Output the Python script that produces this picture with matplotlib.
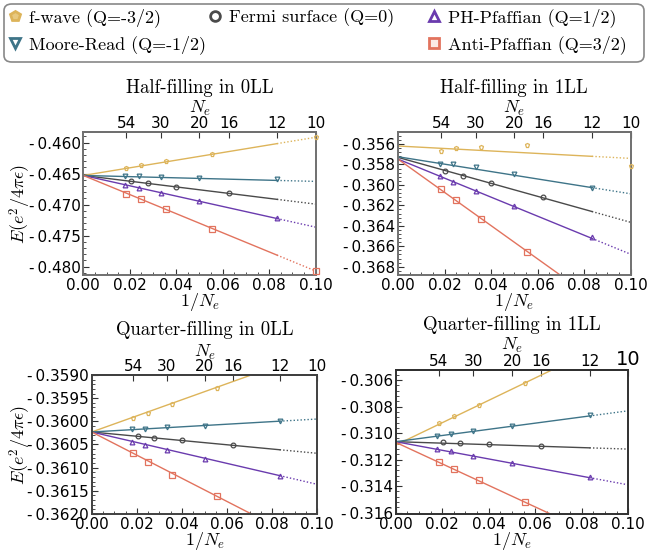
import matplotlib
matplotlib.use("Agg")
import matplotlib.pyplot as plt
import numpy as np
from matplotlib.ticker import AutoMinorLocator, FuncFormatter
from matplotlib.patches import FancyBboxPatch
from matplotlib.lines import Line2D

plt.rcParams['mathtext.fontset'] = 'cm'
plt.rcParams['font.family'] = 'DejaVu Sans'

# system sizes N_e used for each state
N_fwave = [54, 40, 28, 18, 10]
N_fermi = [49, 36, 25, 16]
N_ph = [56, 42, 30, 20, 12]
N_mr = [56, 42, 30, 20, 12]
N_apf = [54, 40, 28, 18, 10]

# energies per electron, half filling in 0LL
half0_fwave = [-0.46403, -0.46366, -0.46302, -0.46180, -0.45915]
half0_fermi = [-0.46615, -0.46658, -0.46711, -0.46817]
half0_ph = [-0.46690, -0.46732, -0.46817, -0.46944, -0.47215]
half0_mr = [-0.46541, -0.46541, -0.46557, -0.46573, -0.46594]
half0_apf = [-0.46822, -0.46912, -0.47077, -0.47395, -0.48069]

# half filling in 1LL
half1_fwave = [-0.35669, -0.35643, -0.35626, -0.35610, -0.35817]
half1_fermi = [-0.35863, -0.35912, -0.35985, -0.36119]
half1_ph = [-0.35912, -0.35971, -0.36064, -0.36211, -0.36514]
half1_mr = [-0.35791, -0.35797, -0.35830, -0.35889, -0.36027]
half1_apf = [-0.36044, -0.36146, -0.36333, -0.36652]

# quarter filling in 0LL
quar0_fwave = [-0.35992, -0.35981, -0.35963, -0.35929]
quar0_fermi = [-0.36032, -0.36036, -0.36041, -0.36051]
quar0_ph = [-0.36044, -0.36051, -0.36062, -0.36082, -0.36118]
quar0_mr = [-0.36017, -0.36016, -0.36013, -0.36009, -0.35999]
quar0_apf = [-0.36069, -0.36087, -0.36115, -0.36162]

# quarter filling in 1LL
quar1_fwave = [-0.30920, -0.30872, -0.30787, -0.30620]
quar1_fermi = [-0.31069, -0.31074, -0.31082, -0.31095]
quar1_ph = [-0.31120, -0.31138, -0.31172, -0.31223, -0.31333]
quar1_mr = [-0.31018, -0.31005, -0.30985, -0.30946, -0.30864]
quar1_apf = [-0.31215, -0.31267, -0.31354, -0.31521]

# linear extrapolations (intercept, slope) in order fwave, fermi, ph, mr, apf
half0_fit = [(-0.4653, 0.0615), (-0.4653, -0.0462), (-0.4653, -0.0833), (-0.4653, -0.0096), (-0.4653, -0.154)]
half1_fit = [(-0.3562, -0.0121), (-0.35731, -0.0635), (-0.35748, -0.093), (-0.35725, -0.0362), (-0.35748, -0.1626)]
quar0_fit = [(-0.36023, 0.0174), (-0.36023, -0.0046), (-0.36023, -0.0113), (-0.36023, 0.0028), (-0.36023, -0.025)]
quar1_fit = [(-0.3109, 0.0845), (-0.31064, -0.0056), (-0.31064, -0.0326), (-0.31064, 0.0233), (-0.31069, -0.0813)]

titles = ["Half-filling in 0LL", "Half-filling in 1LL",
          "Quarter-filling in 0LL", "Quarter-filling in 1LL"]
top_N = [54, 30, 20, 16, 12, 10]

colors = ['#DDB45A', '#4A4A4A', '#6A3BAE', '#3E7488', '#E2735E']
markers = ['p', 'o', '^', 'v', 's']
msizes = [3.6, 3.4, 3.4, 3.4, 5]
labels = ["f-wave (Q=-3/2)", "Fermi surface (Q=0)", "PH-Pfaffian (Q=1/2)",
          "Moore-Read (Q=-1/2)", "Anti-Pfaffian (Q=3/2)"]
Ns = [N_fwave, N_fermi, N_ph, N_mr, N_apf]

panels = [
    ([half0_fwave, half0_fermi, half0_ph, half0_mr, half0_apf], half0_fit),
    ([half1_fwave, half1_fermi, half1_ph, half1_mr, half1_apf], half1_fit),
    ([quar0_fwave, quar0_fermi, quar0_ph, quar0_mr, quar0_apf], quar0_fit),
    ([quar1_fwave, quar1_fermi, quar1_ph, quar1_mr, quar1_apf], quar1_fit),
]

W, H = 649, 551
fig = plt.figure(figsize=(W / 100, H / 100), dpi=100)

def px_axes(x0, y0, x1, y1):
    return fig.add_axes([x0 / W, 1 - y1 / H, (x1 - x0) / W, (y1 - y0) / H])

boxes = [(83.3, 132, 315.7, 275), (398, 132, 630.7, 275),
         (91.7, 375, 317.3, 514), (395.7, 370, 628.3, 514)]
axes = [px_axes(*b) for b in boxes]
ylims = [(-0.48134, -0.4583), (-0.36881, -0.35483), (-0.3620, -0.3590), (-0.3161, -0.30523)]
yticks = [np.arange(-0.480, -0.4599, 0.005), np.arange(-0.368, -0.3559, 0.002),
          np.arange(-0.3620, -0.35899, 0.0005), np.arange(-0.316, -0.3059, 0.002)]
ydec = [3, 3, 4, 3]
title_y = [88, 88, 330, 325]
ne_pad = [2, 2, 1, 0]
spine_cols = ['#707070', '#707070', '#404040', '#303030']

x_cut = 1 / 12

for k, ax in enumerate(axes):
    data, fits = panels[k]
    for i in range(5):
        E = data[i]
        x = 1 / np.array(Ns[i][:len(E)], dtype=float)
        b, m = fits[i]
        xs = np.linspace(0, x_cut, 50)
        xd = np.linspace(x_cut, 0.1, 20)
        ax.plot(xs, b + m * xs, color=colors[i], lw=1.0)
        ax.plot(xd, b + m * xd, color=colors[i], lw=1.0, ls=(0, (1, 1.5)))
        ax.plot(x, E, ls='none', marker=markers[i], ms=msizes[i], mfc='none',
                mec=colors[i], mew=0.9, clip_on=False, zorder=4)

    ax.set_xlim(0, 0.1)
    ax.set_ylim(*ylims[k])
    ax.set_xticks(np.arange(0, 0.101, 0.02))
    ax.xaxis.set_major_formatter(FuncFormatter(lambda v, p: f"{v:.2f}"))
    ax.set_yticks(yticks[k])
    d = ydec[k]
    ax.yaxis.set_major_formatter(FuncFormatter(lambda v, p, d=d: f"-\u2009{abs(v):.{d}f}"))
    ax.xaxis.set_minor_locator(AutoMinorLocator(4))
    ax.yaxis.set_minor_locator(AutoMinorLocator(5))
    ax.tick_params(which='both', direction='in', colors='#333333', labelcolor='black',
                   labelsize=11)
    ax.tick_params(which='major', length=4, width=0.8)
    ax.tick_params(which='minor', length=2, width=0.6)
    ax.tick_params(axis='x', pad=2)
    ax.tick_params(axis='y', pad=2)
    for s in ax.spines.values():
        s.set_color(spine_cols[k])
        s.set_linewidth(1.4)

    x0, y0, x1, y1 = boxes[k]
    ax.set_xlabel(r"$1/N_e$", fontsize=13, labelpad=-1)
    if k in (0, 2):
        ax.set_ylabel(r"$E(e^2/4\pi\epsilon)$", fontsize=13)
        ax.yaxis.set_label_coords((33 - x0) / (x1 - x0), 0.5)

    sec = ax.secondary_xaxis('top')
    sec.set_xticks([1 / n for n in top_N])
    sec.set_xticklabels([str(n) for n in top_N])
    sec.tick_params(direction='in', length=4, width=0.8, colors='#333333',
                    labelcolor='black', labelsize=11, pad=1)
    sec.spines['top'].set_color(spine_cols[k])
    sec.spines['top'].set_linewidth(1.4)
    sec.set_xlabel(r"$N_e$", fontsize=13, labelpad=ne_pad[k])
    if k == 3:
        sec.get_xticklabels()[-1].set_fontsize(14)

    fig.text((x0 + x1) / 2 / W, 1 - title_y[k] / H, titles[k], family='cmr10',
             fontsize=13.5, ha='center', va='center')

# legend box across the top
box = FancyBboxPatch((4 / W, 1 - 62 / H), 640 / W, 58 / H,
                     boxstyle="round,pad=0,rounding_size=0.012",
                     transform=fig.transFigure, fc='white', ec='#888888', lw=1.2)
fig.add_artist(box)

entry_pos = [(6, 18), (206, 18), (425, 18), (6, 45), (425, 45)]
face = ['#E8C980', 'white', 'white', 'white', '#FBEAE6']
for i in range(5):
    h = Line2D([], [], ls='none', marker=markers[i], ms=7,
               mfc=face[i], mec=colors[i], mew=2)
    lx, ly = entry_pos[i]
    fig.legend([h], [labels[i]], loc='center left',
               bbox_to_anchor=(lx / W, 1 - ly / H), frameon=False,
               borderpad=0, borderaxespad=0, handlelength=1.0, handletextpad=0.3,
               prop={'family': 'cmr10', 'size': 13})

fig.savefig("out.png", dpi=100)
